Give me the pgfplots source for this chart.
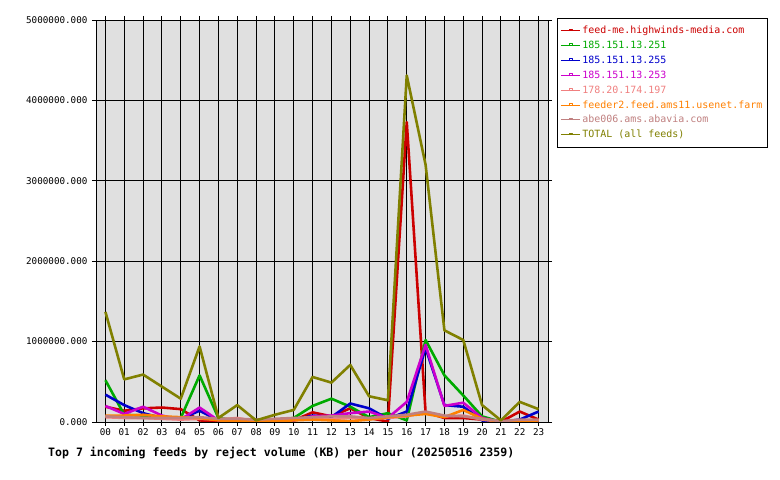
\documentclass[border=0pt]{standalone}
\usepackage{pgfplots}
\pgfplotsset{compat=1.18}
\usepackage{fontspec}
\setmainfont{DejaVu Sans Mono}
\setmonofont{DejaVu Sans Mono}
\definecolor{cred}{HTML}{CC0000}
\definecolor{cgreen}{HTML}{00AA00}
\definecolor{cblue}{HTML}{0000CC}
\definecolor{cmag}{HTML}{CC00CC}
\definecolor{csal}{HTML}{F08080}
\definecolor{corange}{HTML}{FF8000}
\definecolor{crosy}{HTML}{C08080}
\definecolor{colive}{HTML}{808000}
\definecolor{bg}{HTML}{E0E0E0}
\begin{document}
\begin{tikzpicture}
\path[use as bounding box, fill=white] (0,0) rectangle (780bp,480bp);
\begin{axis}[
  at={(96bp,58bp)}, anchor=south west,
  scale only axis, width=452bp, height=402bp,
  xmin=-0.5, xmax=23.5, ymin=0, ymax=5000000,
  axis background/.style={fill=bg},
  axis line style={black, line width=0.9pt},
  xtick={0,...,23},
  xticklabels={00,01,02,03,04,05,06,07,08,09,10,11,12,13,14,15,16,17,18,19,20,21,22,23},
  ytick={0,1000000,2000000,3000000,4000000,5000000},
  yticklabels={0.000,1000000.000,2000000.000,3000000.000,4000000.000,5000000.000},
  scaled y ticks=false,
  tick label style={font=\fontsize{9.3}{10}\selectfont, black},
  xticklabel style={yshift=1bp},
  yticklabel style={xshift=-1bp},
  tick align=outside, major tick length=4bp,
  tick style={black, line width=0.9pt},
  grid=major, major grid style={black, line width=0.9pt},
  legend cell align=left,
  legend style={at={(1.0199,1.005)}, anchor=north west, draw=black, line width=0.9pt, fill=white,
    font=\fontsize{10}{11}\selectfont, row sep=1.9bp, inner xsep=3bp, inner ysep=6bp},
  legend image code/.code={\draw[#1, line width=1pt] (0bp,0bp) -- (19bp,0bp); \draw[#1,line width=0.8pt] (8bp,0bp) -- (8bp,2bp) -- (11bp,2bp) -- (11bp,0bp);},
  every axis plot/.append style={line width=2.6pt, line join=round, mark=none},
]
\addplot[cred] coordinates {(0,190000)(1,140000)(2,170000)(3,180000)(4,160000)(5,20000)(6,5000)(7,5000)(8,3000)(9,5000)(10,20000)(11,120000)(12,70000)(13,170000)(14,50000)(15,5000)(16,3730000)(17,120000)(18,50000)(19,50000)(20,30000)(21,2000)(22,130000)(23,30000)};
\addlegendentry{\textcolor{cred}{feed-me.highwinds-media.com}}
\addplot[cgreen] coordinates {(0,520000)(1,90000)(2,80000)(3,50000)(4,50000)(5,580000)(6,50000)(7,20000)(8,20000)(9,20000)(10,50000)(11,200000)(12,290000)(13,190000)(14,60000)(15,110000)(16,20000)(17,1020000)(18,580000)(19,330000)(20,70000)(21,2000)(22,20000)(23,20000)};
\addlegendentry{\textcolor{cgreen}{185.151.13.251}}
\addplot[cblue] coordinates {(0,340000)(1,210000)(2,110000)(3,50000)(4,40000)(5,140000)(6,20000)(7,20000)(8,20000)(9,20000)(10,20000)(11,80000)(12,60000)(13,230000)(14,170000)(15,40000)(16,130000)(17,920000)(18,210000)(19,190000)(20,20000)(21,2000)(22,30000)(23,130000)};
\addlegendentry{\textcolor{cblue}{185.151.13.255}}
\addplot[cmag] coordinates {(0,200000)(1,100000)(2,190000)(3,80000)(4,30000)(5,180000)(6,20000)(7,5000)(8,5000)(9,10000)(10,20000)(11,70000)(12,80000)(13,110000)(14,130000)(15,50000)(16,250000)(17,960000)(18,200000)(19,240000)(20,50000)(21,2000)(22,20000)(23,20000)};
\addlegendentry{\textcolor{cmag}{185.151.13.253}}
\addplot[csal] coordinates {(0,60000)(1,50000)(2,50000)(3,40000)(4,30000)(5,40000)(6,30000)(7,50000)(8,10000)(9,20000)(10,30000)(11,30000)(12,40000)(13,50000)(14,40000)(15,50000)(16,70000)(17,120000)(18,70000)(19,80000)(20,30000)(21,2000)(22,20000)(23,20000)};
\addlegendentry{\textcolor{csal}{178.20.174.197}}
\addplot[corange] coordinates {(0,80000)(1,80000)(2,90000)(3,70000)(4,60000)(5,50000)(6,20000)(7,10000)(8,3000)(9,10000)(10,20000)(11,30000)(12,20000)(13,10000)(14,30000)(15,60000)(16,80000)(17,100000)(18,60000)(19,150000)(20,40000)(21,2000)(22,10000)(23,20000)};
\addlegendentry{\textcolor{corange}{feeder2.feed.ams11.usenet.farm}}
\addplot[crosy] coordinates {(0,70000)(1,60000)(2,50000)(3,50000)(4,50000)(5,60000)(6,40000)(7,40000)(8,30000)(9,40000)(10,50000)(11,60000)(12,70000)(13,70000)(14,50000)(15,70000)(16,90000)(17,130000)(18,80000)(19,70000)(20,40000)(21,10000)(22,30000)(23,30000)};
\addlegendentry{\textcolor{crosy}{abe006.ams.abavia.com}}
\addplot[colive] coordinates {(0,1370000)(1,530000)(2,590000)(3,440000)(4,290000)(5,940000)(6,50000)(7,210000)(8,20000)(9,90000)(10,150000)(11,560000)(12,490000)(13,710000)(14,320000)(15,270000)(16,4310000)(17,3200000)(18,1140000)(19,1020000)(20,210000)(21,20000)(22,250000)(23,160000)};
\addlegendentry{\textcolor{colive}{TOTAL (all feeds)}}
\end{axis}
\node[anchor=base west, font=\bfseries\fontsize{11.6}{12}\selectfont, inner sep=0pt] at (48bp,24bp) {Top 7 incoming feeds by reject volume (KB) per hour (20250516 2359)};
\end{tikzpicture}
\end{document}
